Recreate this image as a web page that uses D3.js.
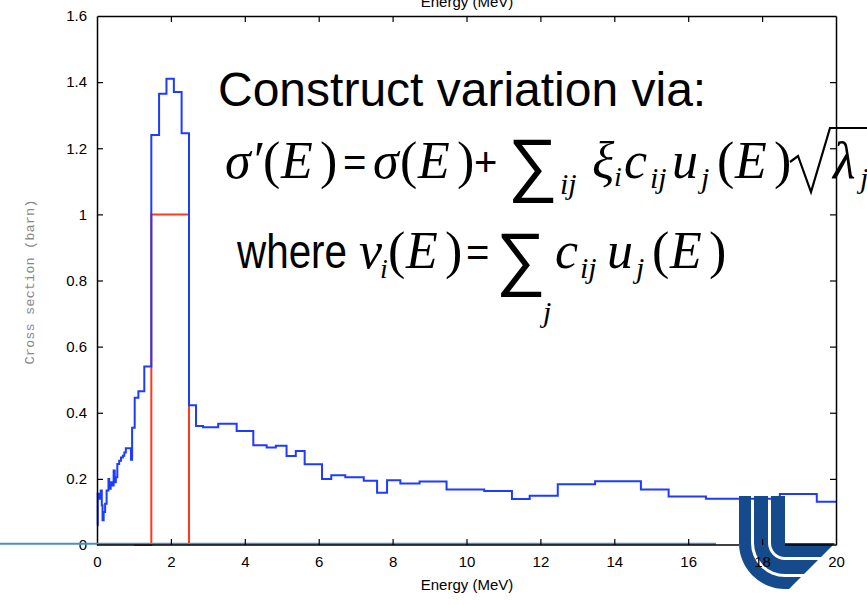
<!DOCTYPE html>
<html>
<head>
<meta charset="utf-8">
<script src="https://cdn.jsdelivr.net/npm/d3@7/dist/d3.min.js"></script>
<style>
  body { margin: 0; background: #fff; }
  svg { display: block; }
  .tick text { font-family: "Liberation Sans", Arial, sans-serif; font-size: 15px; fill: #000; }
  .math { font-family: "Liberation Serif", "Times New Roman", serif; font-style: italic; }
  .up { font-style: normal; }
  .sans { font-family: "Liberation Sans", Arial, sans-serif; font-style: normal; }
</style>
</head>
<body>
<div id="chart"></div>
<script>
// blue histogram: bin lower edges (MeV) and cross section (barn)
var binEdges = [0, 0.02, 0.06, 0.10, 0.13, 0.15, 0.18, 0.22, 0.26, 0.31,
  0.33, 0.37, 0.42, 0.45, 0.48, 0.51, 0.55, 0.60, 0.65, 0.70,
  0.74, 0.78, 0.92, 0.95, 1.02, 1.12, 1.28, 1.47, 1.68, 1.88,
  2.08, 2.29, 2.49, 2.68, 2.87, 3.28, 3.78, 4.23, 4.59, 4.84,
  5.13, 5.38, 5.62, 6.09, 6.34, 6.72, 7.22, 7.58, 7.85, 8.21,
  8.73, 9.46, 10.48, 11.23, 11.71, 12.47, 13.48, 14.72, 15.47, 16.48,
  18.48, 19.48];
var sigma = [0.06, 0.155, 0.14, 0.165, 0.12, 0.075, 0.10, 0.125, 0.165, 0.20,
  0.17, 0.19, 0.18, 0.225, 0.19, 0.205, 0.245, 0.255, 0.265, 0.27,
  0.28, 0.293, 0.258, 0.355, 0.445, 0.465, 0.54, 1.24, 1.365, 1.41,
  1.37, 1.245, 0.423, 0.36, 0.356, 0.367, 0.345, 0.302, 0.295, 0.30,
  0.269, 0.284, 0.244, 0.20, 0.211, 0.205, 0.194, 0.158, 0.196, 0.186,
  0.192, 0.168, 0.163, 0.139, 0.149, 0.184, 0.193, 0.168, 0.147, 0.14,
  0.154, 0.131];
var eMax = 20;

// red box function
var boxEdges = [1.0, 1.47, 2.49];
var boxValues = [0, 1, 0];
var boxEnd = 2.49;

var xTicks = [0, 2, 4, 6, 8, 10, 12, 14, 16, 18, 20];
var yTicks = [0, 0.2, 0.4, 0.6, 0.8, 1, 1.2, 1.4, 1.6];

var width = 867, height = 605;
var margin = { top: 16, right: 31, bottom: 60, left: 97 };

var svg = d3.select('#chart')
  .append('svg')
  .attr('width', width)
  .attr('height', height);

var x = d3.scaleLinear().domain([0, 20]).range([margin.left, width - margin.right]);
var y = d3.scaleLinear().domain([0, 1.6]).range([height - margin.bottom, margin.top]);

var toSteps = function (edges, vals, end) {
  var pts = edges.map(function (e, i) { return [e, vals[i]]; });
  pts.push([end, vals[vals.length - 1]]);
  return pts;
};

var line = d3.line()
  .x(function (d) { return x(d[0]); })
  .y(function (d) { return y(d[1]); })
  .curve(d3.curveStepAfter);

svg.append('path')
  .datum(toSteps(boxEdges, boxValues, boxEnd))
  .attr('d', line)
  .attr('fill', 'none')
  .attr('stroke', '#ff3a1c')
  .attr('stroke-width', 2);

svg.append('path')
  .datum(toSteps(binEdges, sigma, eMax))
  .attr('d', line)
  .attr('fill', 'none')
  .attr('stroke', '#1e3cff')
  .attr('stroke-width', 2);

// frame + ticks
var y0 = y(0), y1 = y(1.6);

var gTop = svg.append('g').attr('transform', 'translate(0,' + y1 + ')')
  .call(d3.axisBottom(x).tickValues(xTicks.slice(1, -1)).tickSize(6).tickSizeOuter(0).tickFormat(''));
var gRight = svg.append('g').attr('transform', 'translate(' + x(20) + ',0)')
  .call(d3.axisLeft(y).tickValues(yTicks.slice(1, -1)).tickSize(6).tickSizeOuter(0).tickFormat(''));
var gLeft = svg.append('g').attr('transform', 'translate(' + x(0) + ',0)')
  .call(d3.axisLeft(y).tickValues(yTicks).tickSize(-6).tickSizeOuter(0).tickPadding(10)
    .tickFormat(function (d) { return d === 0 || d === 1 ? d : d3.format('.1f')(d); }));
var gBottom = svg.append('g').attr('transform', 'translate(0,' + y0 + ')')
  .call(d3.axisBottom(x).tickValues(xTicks).tickSize(-6).tickSizeOuter(0).tickPadding(11));

[gTop, gRight, gLeft, gBottom].forEach(function (g) {
  g.select('.domain').attr('stroke', '#000').attr('stroke-width', 1.5);
  g.selectAll('.tick line').attr('stroke', '#000').attr('stroke-width', 1.2);
});
gLeft.selectAll('.tick').filter(function (d) { return d === 0 || d === 1.6; }).select('line').remove();
gBottom.selectAll('.tick').filter(function (d) { return d === 0 || d === 20; }).select('line').remove();

// slide rule line
svg.append('line')
  .attr('x1', 0).attr('x2', 716)
  .attr('y1', y0 - 1.2).attr('y2', y0 - 1.2)
  .attr('stroke', '#4f8ec4')
  .attr('stroke-width', 2);

// axis titles
svg.append('text')
  .attr('x', 467).attr('y', 590)
  .attr('text-anchor', 'middle')
  .style('font-family', '"Liberation Sans", Arial, sans-serif')
  .style('font-size', '15px')
  .text('Energy (MeV)');

svg.append('text')
  .attr('x', 467).attr('y', 7)
  .attr('text-anchor', 'middle')
  .style('font-family', '"Liberation Sans", Arial, sans-serif')
  .style('font-size', '15px')
  .text('Energy (MeV)');

svg.append('text')
  .attr('transform', 'translate(34,282) rotate(-90)')
  .attr('text-anchor', 'middle')
  .attr('textLength', 165)
  .attr('lengthAdjust', 'spacingAndGlyphs')
  .style('font-family', '"Liberation Mono", "Courier New", monospace')
  .style('font-size', '13.5px')
  .style('fill', '#888')
  .text('Cross section (barn)');

// logo (three nested rounded L bands, diagonal cut)
var logo = svg.append('g').attr('fill', '#154b8c');
var cx = 785, cy = 543, topY = 496, cut = 1378;
[[0, 14], [17, 31], [34, 46]].forEach(function (b) {
  var rin = b[0], rout = b[1];
  var p = d3.path();
  p.moveTo(cx - rout, topY);
  p.lineTo(cx - rin, topY);
  p.lineTo(cx - rin, cy);
  if (rin > 0) p.arc(cx, cy, rin, Math.PI, Math.PI / 2, true);
  p.lineTo(cut - (cy + rin), cy + rin);
  p.lineTo(cut - (cy + rout), cy + rout);
  p.lineTo(cx, cy + rout);
  p.arc(cx, cy, rout, Math.PI / 2, Math.PI, false);
  p.closePath();
  logo.append('path').attr('d', p.toString());
});
gBottom.raise();
gBottom.select('.domain').remove();
svg.append('line')
  .attr('x1', x(0)).attr('x2', 739)
  .attr('y1', y0).attr('y2', y0)
  .attr('stroke', '#000').attr('stroke-width', 1.5);
svg.append('line')
  .attr('x1', 785).attr('x2', x(20))
  .attr('y1', y0).attr('y2', y0)
  .attr('stroke', '#000').attr('stroke-width', 1.5);

// annotation text
var ann = svg.append('g');
ann.append('text')
  .attr('class', 'sans')
  .attr('x', 218).attr('y', 106)
  .style('font-size', '48px')
  .text('Construct variation via:');

var put = function (str, px, py, size, cls) {
  return ann.append('text')
    .attr('class', cls || 'math')
    .attr('x', px).attr('y', py)
    .style('font-size', size + 'px')
    .text(str);
};

// line 2
var b2 = 178;
put('\u03c3\u2032', 225, b2, 52);
put('(', 263, b2, 52, 'math up'); put('E', 281, b2, 52); put(')', 320, b2, 52, 'math up');
put('=', 343, b2 - 2, 40, 'sans');
put('\u03c3', 373, b2, 52);
put('(', 400, b2, 52, 'math up'); put('E', 418, b2, 52); put(')', 457, b2, 52, 'math up');
put('+', 474, b2 - 2, 40, 'sans');
put('\u2211', 508, b2 + 10, 70, 'sans');
put('ij', 560, b2 + 16, 30);
put('\u03be', 592, b2, 52);
put('i', 614, b2 + 8, 28);
put('c', 624, b2, 52);
put('ij', 650, b2 + 10, 30);
put('u', 672, b2, 52);
put('j', 701, b2 + 10, 30);
put('(', 717, b2, 52, 'math up'); put('E', 735, b2, 52); put(')', 774, b2, 52, 'math up');
// radical sign
ann.append('path')
  .attr('d', 'M790,162 L798,156 L811,192 L830,128 L867,128')
  .attr('fill', 'none')
  .attr('stroke', '#000')
  .attr('stroke-width', 2.2)
  .attr('stroke-linejoin', 'miter');
put('\u03bb', 833, b2, 52);
put('j', 860, b2 + 10, 30);

// line 3
var b3 = 268;
put('where', 237, b3, 48, 'sans')
  .attr('textLength', 110)
  .attr('lengthAdjust', 'spacingAndGlyphs');
put('v', 359, b3, 52);
put('i', 380, b3 + 10, 28);
put('(', 388, b3, 52, 'math up'); put('E', 406, b3, 52); put(')', 445, b3, 52, 'math up');
put('=', 466, b3 - 2, 40, 'sans');
put('\u2211', 496, b3 + 14, 70, 'sans');
put('j', 543, b3 + 54, 30);
put('c', 555, b3, 52);
put('ij', 580, b3 + 10, 30);
put('u', 607, b3, 52);
put('j', 636, b3 + 10, 30);
put('(', 652, b3, 52, 'math up'); put('E', 670, b3, 52); put(')', 709, b3, 52, 'math up');
</script>
</body>
</html>
